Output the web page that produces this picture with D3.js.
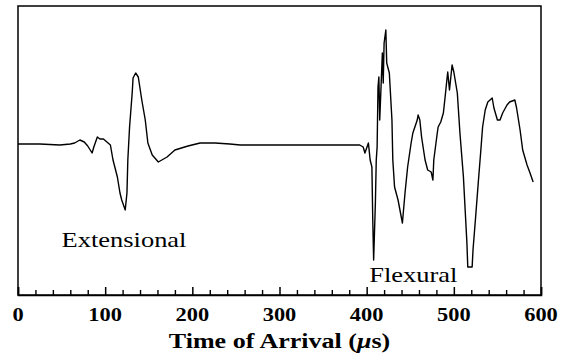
<!DOCTYPE html>
<meta charset="utf-8">
<style>
body { margin: 0; background: #fff; }
.lbl { font-family: "Liberation Serif", "DejaVu Serif", "Times New Roman", serif; fill: #000; }
</style>
<body>
<div id="chart"></div>
<script src="https://d3js.org/d3.v7.min.js"></script>
<script>
// time of arrival (us) and received amplitude (arbitrary units, 0 = rest level)
var timeUs = [0, 25, 48, 60, 65, 71, 76, 80, 85, 87, 91, 94, 98, 102, 106, 109, 114, 117, 119, 123,
  125, 126, 128, 131, 132, 135, 138, 142, 146, 149, 154, 161, 171, 180, 195, 209, 226, 243, 255, 324,
  381, 392, 396, 398, 402, 404, 406, 407, 408, 410, 411, 412, 413, 414, 415, 418, 419, 420, 422, 423,
  426, 429, 430, 432, 436, 441, 444, 447, 451, 453, 458, 459, 461, 463, 467, 470, 474, 476, 477, 481,
  482, 485, 488, 490, 492, 493, 495, 498, 500, 504, 507, 511, 513, 515, 516, 521, 522, 525, 528, 531,
  533, 536, 539, 544, 546, 550, 553, 556, 561, 564, 570, 572, 576, 579, 584, 587, 591];
var amplitude = [0, 0, -1, 0, 1, 4, 2, -2, -9, -3, 7, 5, 5, 2, -1, -16, -33, -49, -56, -66,
  -49, -16, 17, 51, 66, 71, 67, 44, 24, 1, -11, -18, -13, -6, -2, 1, 1, 0, -1, -1,
  -1, -1, -3, -9, 1, -16, -23, -76, -116, -59, -16, -3, 57, 67, 24, 91, 61, 101, 114, 81,
  71, 24, -16, -43, -56, -79, -49, -23, 1, 11, 24, 29, 24, 7, -16, -26, -28, -36, -16, 11,
  17, 22, 31, 47, 64, 72, 54, 79, 72, 51, 11, -33, -66, -99, -123, -123, -106, -73, -39, -6,
  17, 34, 42, 46, 36, 24, 24, 31, 39, 42, 44, 36, 14, -6, -21, -28, -38];

var majorTicks = [0, 100, 200, 300, 400, 500, 600];
var minorTicks = [20, 40, 60, 80, 120, 140, 160, 180, 220, 240, 260, 280, 320, 340, 360, 380,
  420, 440, 460, 480, 520, 540, 560, 580];
var xTitle = "Time of Arrival (";
var annotations = [
  {text: "Extensional", t: 50, a: -103},
  {text: "Flexural", t: 403, a: -138}
];

var margin = {top: 6, right: 27, bottom: 61, left: 18},
    width = 568 - margin.left - margin.right,
    height = 356 - margin.top - margin.bottom;

var x = d3.scaleLinear().domain([0, 600]).range([0, width]);
var y = d3.scaleLinear().domain([-151, 138]).range([height, 0]);

var svg = d3.select("#chart")
  .append("svg")
  .attr("width", 568)
  .attr("height", 356)
  .append("g")
  .attr("transform", "translate(" + margin.left + "," + margin.top + ")");

var data = timeUs.map(function(t, i) { return {t: t, a: amplitude[i]}; });

// frame
svg.append("rect")
  .attr("width", width)
  .attr("height", height)
  .attr("fill", "none")
  .attr("stroke", "#000")
  .attr("stroke-width", 1.5);

// ticks point up into the plot
svg.append("g")
  .attr("transform", "translate(0," + height + ")")
  .call(d3.axisBottom(x).tickValues(minorTicks).tickSize(-5).tickFormat(""))
  .call(function(g) { g.select(".domain").remove(); })
  .selectAll("line").attr("stroke-width", 1.4);

svg.append("g")
  .attr("transform", "translate(0," + height + ")")
  .call(d3.axisBottom(x).tickValues(majorTicks).tickSize(-8).tickFormat(""))
  .call(function(g) { g.select(".domain").attr("stroke-width", 1.5); })
  .selectAll("line").attr("stroke-width", 1.5);

svg.selectAll(".xlab")
  .data(majorTicks)
  .enter().append("text")
  .attr("class", "lbl")
  .attr("font-family", "Liberation Serif, DejaVu Serif, serif")
  .attr("transform", function(d) { return "translate(" + x(d) + "," + (height + 26) + ") scale(1.18,1)"; })
  .attr("text-anchor", "middle")
  .attr("font-size", "19px")
  .attr("font-weight", "bold")
  .text(function(d) { return d; });

var title = svg.append("text")
  .attr("class", "lbl")
  .attr("font-family", "Liberation Serif, DejaVu Serif, serif")
  .attr("transform", "translate(" + (width / 2) + "," + (height + 53) + ") scale(1.24,1)")
  .attr("text-anchor", "middle")
  .attr("font-size", "21px")
  .attr("font-weight", "bold");
title.append("tspan").text(xTitle);
title.append("tspan").attr("font-style", "italic").text("\u03bc");
title.append("tspan").text("s)");

svg.selectAll(".note")
  .data(annotations)
  .enter().append("text")
  .attr("class", "lbl")
  .attr("font-family", "Liberation Serif, DejaVu Serif, serif")
  .attr("transform", function(d) { return "translate(" + x(d.t) + "," + y(d.a) + ") scale(1.26,1)"; })
  .attr("font-size", "21px")
  .text(function(d) { return d.text; });

var line = d3.line()
  .x(function(d) { return x(d.t); })
  .y(function(d) { return y(d.a); });

svg.append("path")
  .datum(data)
  .attr("fill", "none")
  .attr("stroke", "#000")
  .attr("stroke-width", 1.4)
  .attr("stroke-linejoin", "round")
  .attr("d", line);
</script>
</body>
